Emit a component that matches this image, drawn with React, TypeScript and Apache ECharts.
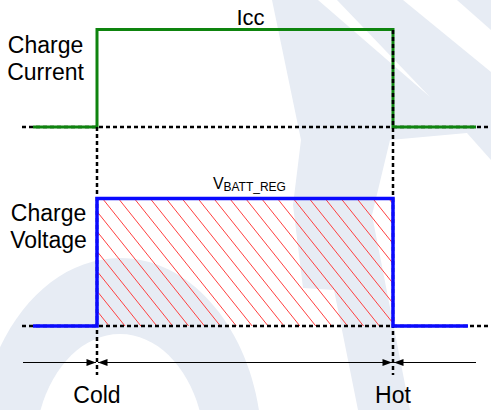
import React, { useEffect, useRef } from 'react';
import * as echarts from 'echarts';

// ---- data (diagram units) ----
const TEMP_DOMAIN = [0, 491];
const PAGE_ROWS = [0, 410];

const coldTemp = 97;
const hotTemp = 393;
const tempMarks = [coldTemp, hotTemp];
const tempLabels = ['Cold', 'Hot'];

// Charge current trace: 0 = off, 1 = Icc
const currentTemps = [33, 97, 97, 393, 393, 476];
const currentLevels = [0, 0, 1, 1, 0, 0];

// Charge voltage trace: 0 = off, 1 = VBATT_REG
const voltageTemps = [33, 97, 97, 393, 393, 468];
const voltageLevels = [0, 0, 1, 1, 0, 0];

// dashed reference baselines
const baselineTemps = [22, 491];

// temperature axis row (arrows)
const axisSegments = [
  [23, 96],
  [98, 392],
  [394, 476],
];
const arrowTips = [
  [96, 1],
  [98, -1],
  [392, 1],
  [394, -1],
];
const axisRow = 362.5;
const labelRow = 395;
const coldGuideRows = [127, 375];
const hotGuideRows = [30, 375];

// ---- styles ----
const FONT = '"Liberation Sans", Arial, Helvetica, sans-serif';
const GREEN = '#0e840e';
const BLUE = '#0a0aff';
const HATCH_COLOR = '#ff4040';
const HATCH_GAP = 15.9;
const HATCH_SLOPE = 1.25;
const HATCH_PHASE = 5.5;
const WM = '#e7ecf4';
const DASH = [4, 3];

function pairs(xs: number[], ys: number[]) {
  return xs.map((x, i) => [x, ys[i]]);
}

function buildOption(): any {
  const xBase = { type: 'value', min: TEMP_DOMAIN[0], max: TEMP_DOMAIN[1], show: false };
  return {
    animation: false,
    backgroundColor: '#ffffff',
    grid: [
      { left: 0, right: 0, top: 29.5, height: 97.5, outerBoundsMode: 'none' },
      { left: 0, right: 0, top: 198.5, height: 127.5, outerBoundsMode: 'none' },
      { left: 0, right: 0, top: 0, height: 410, outerBoundsMode: 'none' },
    ],
    xAxis: [
      { ...xBase, gridIndex: 0 },
      { ...xBase, gridIndex: 1 },
      { ...xBase, gridIndex: 2 },
    ],
    yAxis: [
      { type: 'value', min: 0, max: 1, show: false, gridIndex: 0 },
      { type: 'value', min: 0, max: 1, show: false, gridIndex: 1 },
      { type: 'value', min: PAGE_ROWS[0], max: PAGE_ROWS[1], inverse: true, show: false, gridIndex: 2 },
    ],
    graphic: [
      // watermark
      { type: 'ellipse', z: -10, silent: true, shape: { cx: 120, cy: 450, rx: 142, ry: 192 }, style: { fill: WM } },
      { type: 'ellipse', z: -9, silent: true, shape: { cx: 120, cy: 452, rx: 85, ry: 118 }, style: { fill: '#ffffff' } },
      {
        type: 'polygon', z: -10, silent: true,
        shape: {
          points: [
            [272, 0], [318, 0], [430, 97], [337, 0], [403, 0], [491, 72], [491, 160],
            [467, 133], [390, 140], [372, 215], [410, 410], [358, 410], [334, 290],
            [303, 288], [293, 205], [301, 140],
          ],
        },
        style: { fill: WM },
      },
      { type: 'polygon', z: -10, silent: true, shape: { points: [[457, 0], [491, 0], [491, 30]] }, style: { fill: WM } },
      // texts
      { type: 'text', x: 250.5, y: 17.5, style: { text: 'Icc', fontSize: 22, fontFamily: FONT, fill: '#000', align: 'center', verticalAlign: 'middle' } },
      { type: 'text', x: 45.5, y: 45.3, style: { text: 'Charge', fontSize: 23, fontFamily: FONT, fill: '#000', align: 'center', verticalAlign: 'middle' } },
      { type: 'text', x: 45.5, y: 72, style: { text: 'Current', fontSize: 23, fontFamily: FONT, fill: '#000', align: 'center', verticalAlign: 'middle' } },
      { type: 'text', x: 48.5, y: 212.7, style: { text: 'Charge', fontSize: 23, fontFamily: FONT, fill: '#000', align: 'center', verticalAlign: 'middle' } },
      { type: 'text', x: 48.5, y: 240.3, style: { text: 'Voltage', fontSize: 23, fontFamily: FONT, fill: '#000', align: 'center', verticalAlign: 'middle' } },
      { type: 'text', x: 213, y: 183, style: { text: 'V', fontSize: 16, fontFamily: FONT, fill: '#000', align: 'left', verticalAlign: 'middle' } },
      { type: 'text', x: 223.5, y: 186.5, style: { text: 'BATT_REG', fontSize: 12, fontFamily: FONT, fill: '#000', align: 'left', verticalAlign: 'middle' } },
    ],
    series: [
      // hatch inside the VBATT_REG window
      {
        type: 'custom', xAxisIndex: 1, yAxisIndex: 1, z: 1, silent: true,
        data: [[coldTemp, hotTemp]],
        renderItem: (params: any, api: any) => {
          const p1 = api.coord([api.value(0), 1]);
          const p2 = api.coord([api.value(1), 0]);
          const L = p1[0], T = p1[1], R = p2[0], B = p2[1];
          const s = HATCH_SLOPE;
          const H = B - T;
          const children: any[] = [];
          const first = L + HATCH_PHASE - Math.ceil((H / s + HATCH_PHASE) / HATCH_GAP) * HATCH_GAP;
          for (let c = first; c < R; c += HATCH_GAP) {
            const y1 = Math.max(T, T + (L - c) * s);
            const y2 = Math.min(B, T + (R - c) * s);
            if (y2 <= y1) continue;
            children.push({
              type: 'line',
              shape: { x1: c + (y1 - T) / s, y1, x2: c + (y2 - T) / s, y2 },
              style: { stroke: HATCH_COLOR, lineWidth: 1 },
            });
          }
          return { type: 'group', children };
        },
      },
      // dashed baselines
      {
        type: 'line', xAxisIndex: 0, yAxisIndex: 0, z: 2, symbol: 'none', clip: false, silent: true,
        data: baselineTemps.map((t) => [t, 0]),
        lineStyle: { color: '#000', width: 2.5, type: DASH },
      },
      {
        type: 'line', xAxisIndex: 1, yAxisIndex: 1, z: 2, symbol: 'none', clip: false, silent: true,
        data: baselineTemps.map((t) => [t, 0]),
        lineStyle: { color: '#000', width: 2.5, type: DASH },
      },
      // charge current
      {
        type: 'line', name: 'Charge Current', xAxisIndex: 0, yAxisIndex: 0, z: 3, symbol: 'none', clip: false,
        data: pairs(currentTemps, currentLevels),
        lineStyle: { color: GREEN, width: 3, join: 'miter' },
      },
      // guides
      {
        type: 'line', xAxisIndex: 2, yAxisIndex: 2, z: 4, symbol: 'none', clip: false, silent: true,
        data: coldGuideRows.map((r) => [coldTemp, r]),
        lineStyle: { color: '#000', width: 2.5, type: DASH },
      },
      {
        type: 'line', xAxisIndex: 2, yAxisIndex: 2, z: 4, symbol: 'none', clip: false, silent: true,
        data: hotGuideRows.map((r) => [hotTemp, r]),
        lineStyle: { color: '#000', width: 2.5, type: DASH },
      },
      // charge voltage
      {
        type: 'line', name: 'Charge Voltage', xAxisIndex: 1, yAxisIndex: 1, z: 5, symbol: 'none', clip: false,
        data: pairs(voltageTemps, voltageLevels),
        lineStyle: { color: BLUE, width: 3.5, join: 'miter' },
      },
      // temperature axis segments
      {
        type: 'custom', xAxisIndex: 2, yAxisIndex: 2, z: 6, silent: true,
        data: axisSegments,
        renderItem: (params: any, api: any) => {
          const a = api.coord([api.value(0), axisRow]);
          const b = api.coord([api.value(1), axisRow]);
          return { type: 'line', shape: { x1: a[0], y1: a[1], x2: b[0], y2: b[1] }, style: { stroke: '#000', lineWidth: 1 } };
        },
      },
      // arrow heads
      {
        type: 'custom', xAxisIndex: 2, yAxisIndex: 2, z: 6, silent: true,
        data: arrowTips,
        renderItem: (params: any, api: any) => {
          const tip = api.coord([api.value(0), axisRow]);
          const d = api.value(1);
          const len = 9.5, half = 3.5;
          return {
            type: 'polygon',
            shape: { points: [[tip[0], tip[1]], [tip[0] - d * len, tip[1] - half], [tip[0] - d * len, tip[1] + half]] },
            style: { fill: '#000' },
          };
        },
      },
      // Cold / Hot labels
      {
        type: 'custom', xAxisIndex: 2, yAxisIndex: 2, z: 6, silent: true,
        data: tempMarks.map((t, i) => [t, i]),
        renderItem: (params: any, api: any) => {
          const p = api.coord([api.value(0), labelRow]);
          return {
            type: 'text', x: p[0], y: p[1],
            style: { text: tempLabels[api.value(1)], fontSize: 23, fontFamily: FONT, fill: '#000', align: 'center', verticalAlign: 'middle' },
          };
        },
      },
    ],
  };
}

export default function App() {
  const ref = useRef<HTMLDivElement>(null);
  useEffect(() => {
    document.body.style.margin = '0';
    if (!ref.current) return;
    const chart = echarts.init(ref.current, undefined, { renderer: 'svg' });
    chart.setOption(buildOption());
    return () => chart.dispose();
  }, []);
  return (
    <div
      ref={ref}
      style={{ position: 'fixed', left: 0, top: 0, width: 491, height: 410, background: '#fff' }}
    />
  );
}
